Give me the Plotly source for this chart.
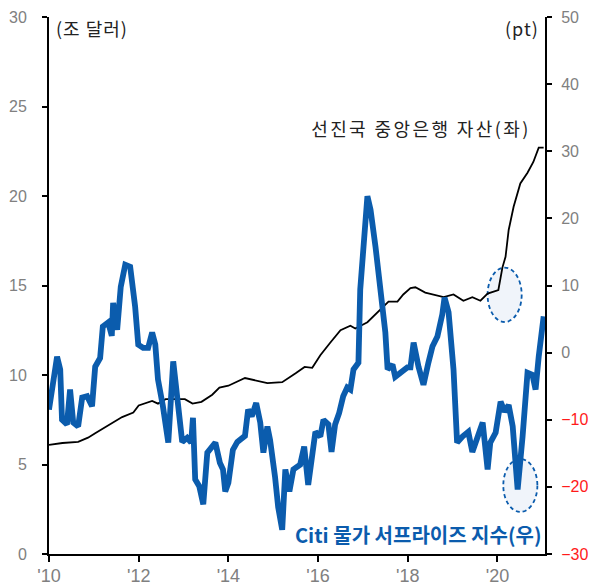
import plotly.graph_objects as go

# ---- data ----
assets_t = [2010.0, 2010.3, 2010.65, 2010.87, 2011.03, 2011.3, 2011.63, 2011.88, 2012.0, 2012.3,
            2012.43, 2012.6, 2013.03, 2013.2, 2013.4, 2013.64, 2013.8, 2014.0, 2014.37, 2014.87,
            2015.2, 2015.5, 2015.7, 2015.87, 2016.05, 2016.27, 2016.5, 2016.72, 2016.83, 2017.1,
            2017.32, 2017.57, 2017.77, 2017.9, 2018.06, 2018.17, 2018.39, 2018.57, 2018.8, 2019.02,
            2019.24, 2019.44, 2019.62, 2019.78, 2020.02, 2020.11, 2020.18, 2020.25, 2020.36, 2020.51,
            2020.67, 2020.8, 2020.92, 2021.03]
assets_v = [6.1, 6.2, 6.26, 6.5, 6.75, 7.15, 7.65, 7.9, 8.3, 8.55,
            8.4, 8.65, 8.65, 8.4, 8.5, 8.9, 9.3, 9.4, 9.83, 9.55,
            9.6, 10.1, 10.45, 10.4, 11.1, 11.8, 12.5, 12.75, 12.6, 12.95,
            13.5, 14.1, 14.1, 14.5, 14.85, 14.9, 14.6, 14.5, 14.35, 14.5,
            14.15, 14.35, 14.15, 14.55, 14.75, 16.0, 16.6, 18.1, 19.4, 20.7,
            21.3, 21.9, 22.7, 22.7]

citi_t = [2010.0, 2010.18, 2010.25, 2010.29, 2010.4, 2010.47, 2010.54, 2010.65, 2010.74, 2010.85,
          2010.96, 2011.03, 2011.14, 2011.2, 2011.32, 2011.4, 2011.43, 2011.52, 2011.6, 2011.7,
          2011.81, 2011.92, 2011.99, 2012.1, 2012.21, 2012.3, 2012.37, 2012.43, 2012.54, 2012.66,
          2012.77, 2012.86, 2012.97, 2013.08, 2013.17, 2013.21, 2013.26, 2013.35, 2013.44, 2013.53,
          2013.71, 2013.81, 2013.88, 2013.93, 2014.0, 2014.1, 2014.2, 2014.37, 2014.44, 2014.52,
          2014.62, 2014.71, 2014.78, 2014.87, 2014.93, 2015.04, 2015.11, 2015.2, 2015.27, 2015.36,
          2015.45, 2015.6, 2015.69, 2015.78, 2015.87, 2015.94, 2016.05, 2016.12, 2016.23, 2016.3,
          2016.38, 2016.47, 2016.56, 2016.65, 2016.72, 2016.79, 2016.9, 2016.94, 2017.1, 2017.17,
          2017.28, 2017.39, 2017.5, 2017.55, 2017.66, 2017.72, 2017.79, 2017.99, 2018.06, 2018.13,
          2018.24, 2018.35, 2018.46, 2018.55, 2018.66, 2018.77, 2018.82, 2018.91, 2019.02, 2019.1,
          2019.22, 2019.35, 2019.44, 2019.55, 2019.67, 2019.78, 2019.84, 2019.96, 2020.07, 2020.16,
          2020.25, 2020.34, 2020.45, 2020.56, 2020.67, 2020.78, 2020.85, 2020.92, 2021.03]
citi_v = [-8.5, -0.6, -2.5, -10.0, -10.7, -5.5, -10.4, -11.0, -6.7, -6.5,
          -8.0, -2.1, -0.8, 3.9, 4.5, 2.5, 7.4, 3.4, 9.8, 13.1,
          12.8, 6.9, 1.2, 0.7, 0.7, 3.0, 1.2, -4.0, -8.0, -13.4,
          -1.3, -6.0, -13.3, -12.7, -13.4, -9.7, -18.9, -19.9, -22.6, -14.9,
          -13.4, -16.4, -17.4, -20.7, -19.4, -14.5, -13.3, -12.4, -8.5, -9.5,
          -7.5, -10.4, -14.9, -11.0, -13.0, -18.5, -23.0, -26.4, -17.4, -20.7,
          -17.4, -16.7, -14.0, -19.7, -14.9, -11.8, -12.5, -10.0, -10.7, -14.8,
          -10.7, -9.0, -6.5, -5.2, -5.5, -2.5, -1.5, 9.4, 23.3, 21.3,
          15.8, 9.8, 3.0, -2.5, -1.8, -3.6, -3.3, -2.2, -2.2, 1.5,
          -2.1, -4.8, -1.5, 0.9, 2.4, 5.7, 8.2, 6.0, -2.5, -13.4,
          -12.5, -11.8, -14.8, -12.5, -10.4, -17.4, -13.4, -11.9, -7.3, -8.8,
          -7.8, -11.0, -20.4, -12.5, -3.0, -3.3, -5.5, -0.6, 5.4]

x_ticks = [2010, 2012, 2014, 2016, 2018, 2020]
x_labels = ["'10", "'12", "'14", "'16", "'18", "'20"]
left_ticks = [0, 5, 10, 15, 20, 25, 30]
right_ticks = [-30, -20, -10, 0, 10, 20, 30, 40, 50]

BLUE = "#0b5cad"
GRAY = "#808080"
RED = "#ff1a1a"

def rlabel(v):
    if v < 0:
        return f"<span style='color:{RED}'>\u2212{abs(v)}</span>"
    return str(v)

fig = go.Figure()
fig.add_trace(go.Scatter(x=assets_t, y=assets_v, mode="lines",
                         line=dict(color="black", width=1.8), yaxis="y", showlegend=False))
fig.add_trace(go.Scatter(x=citi_t, y=citi_v, mode="lines",
                         line=dict(color=BLUE, width=5.8), yaxis="y2", showlegend=False))

# highlight ellipses
fig.add_shape(type="circle", xref="x", yref="y", x0=2019.78, x1=2020.54, y0=12.96, y1=16.0,
              line=dict(color=BLUE, width=1.8, dash="4px,3px"), fillcolor="#f0f4fa", layer="below")
fig.add_shape(type="circle", xref="x", yref="y", x0=2020.13, x1=2020.89, y0=2.35, y1=5.31,
              line=dict(color=BLUE, width=1.8, dash="4px,3px"), fillcolor="#f0f4fa", layer="below")

tickfont = dict(family="Liberation Sans, Arial, sans-serif", size=16, color=GRAY)
xtickfont = dict(family="Liberation Sans, Arial, sans-serif", size=18, color=GRAY)
kfont = "Noto Sans CJK KR, sans-serif"

# the page body has an 8px margin, so the figure is 8px smaller than the window
fig.update_layout(
    width=588, height=577,
    margin=dict(l=41, r=51, t=9, b=31, autoexpand=False),
    paper_bgcolor="white", plot_bgcolor="white",
    xaxis=dict(range=[2010, 2021.06], tickvals=x_ticks, ticktext=x_labels, automargin=False,
               showgrid=False, zeroline=False, showline=True, linecolor="black", linewidth=2,
               ticks="outside", ticklen=6, tickwidth=2, tickcolor="black",
               tickfont=xtickfont, ticklabelstandoff=-2),
    yaxis=dict(range=[0, 30], tickvals=left_ticks, showgrid=False, zeroline=False, automargin=False,
               showline=True, linecolor="black", linewidth=2,
               ticks="outside", ticklen=5, tickwidth=2, tickcolor="black",
               tickfont=tickfont, ticklabelstandoff=12),
    yaxis2=dict(range=[-30, 50], tickvals=right_ticks, ticktext=[rlabel(v) for v in right_ticks],
                overlaying="y", side="right", showgrid=False, zeroline=False, automargin=False,
                showline=True, linecolor="black", linewidth=2,
                ticks="outside", ticklen=5, tickwidth=2, tickcolor="black",
                tickfont=tickfont, ticklabelstandoff=6),
    annotations=[
        dict(text="(조 달러)", xref="paper", yref="paper", x=0.0877, y=0.9795,
             xanchor="center", yanchor="middle", showarrow=False,
             font=dict(family=kfont, size=18, color="#222222")),
        dict(text="(pt)", xref="paper", yref="paper", x=0.9536, y=0.9795,
             xanchor="center", yanchor="middle", showarrow=False,
             font=dict(family=kfont, size=18, color="#222222")),
        dict(text="선진국 중앙은행 자산(좌)", xref="paper", yref="paper", x=0.749, y=0.793,
             xanchor="center", yanchor="middle", showarrow=False,
             font=dict(family=kfont, size=18, color="#222222")),
        dict(text="<b>Citi 물가 서프라이즈 지수(우)</b>", xref="paper", yref="paper", x=0.743, y=0.0354,
             xanchor="center", yanchor="middle", showarrow=False,
             font=dict(family=kfont, size=20, color=BLUE)),
    ],
)

spacing_js = """
document.querySelectorAll('.annotation-text').forEach(function(e){
  var t = e.textContent;
  if (t.indexOf('Citi') >= 0) { return; }
  if (t.indexOf('(pt)') >= 0 || t.indexOf('달러') >= 0) { e.style.letterSpacing = '1px'; return; }
  e.style.letterSpacing = '2.4px';
});
"""

fig.write_html("out.html", post_script=spacing_js)
